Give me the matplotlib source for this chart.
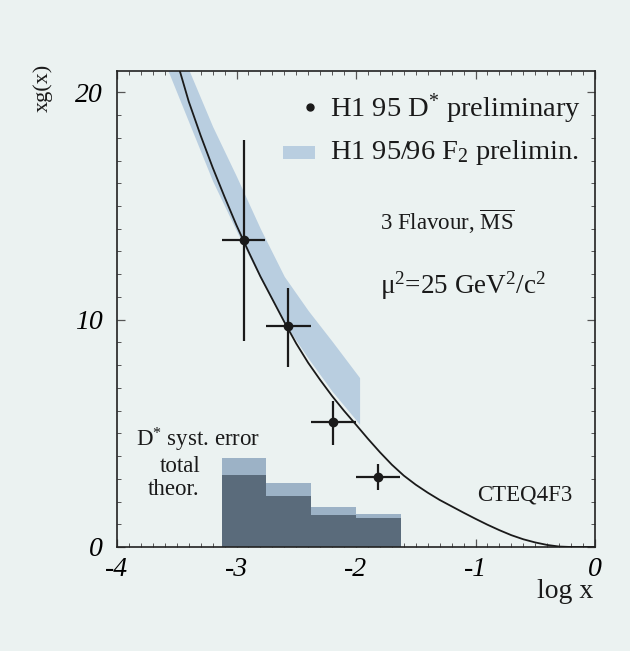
import matplotlib
matplotlib.use("Agg")
import matplotlib.pyplot as plt
import numpy as np
from matplotlib.patches import Rectangle
from matplotlib.ticker import MultipleLocator

plt.rcParams['font.family'] = ['Liberation Serif', 'DejaVu Serif']
plt.rcParams['mathtext.fontset'] = 'custom'
plt.rcParams['mathtext.rm'] = 'Liberation Serif'
plt.rcParams['mathtext.it'] = 'Liberation Serif:italic'
plt.rcParams['axes.unicode_minus'] = False

# ---- data ----
# H1 95 D* points
dstar_x = [-2.94, -2.57, -2.19, -1.82]
dstar_y = [13.5, 9.7, 5.5, 3.1]
dstar_xlo = [-3.125, -2.75, -2.375, -2.0]
dstar_xhi = [-2.76, -2.375, -2.0, -1.63]
dstar_ylo = [9.05, 7.9, 4.5, 2.5]
dstar_yhi = [17.9, 11.4, 6.4, 3.65]

# H1 95/96 F2 band
band_x = [-3.6, -3.4, -3.2, -3.0, -2.8, -2.6, -2.4, -2.2, -1.97]
band_lo = [21.3, 18.7, 16.1, 13.9, 11.8, 9.85, 8.3, 6.85, 5.4]
band_hi = [23.5, 21.0, 18.5, 16.3, 14.0, 11.9, 10.4, 9.05, 7.45]

# CTEQ4F3 curve
curve_x = [-3.6, -3.5, -3.4, -3.3, -3.2, -3.1, -3.0, -2.9, -2.8, -2.7, -2.6, -2.5,
           -2.4, -2.3, -2.2, -2.1, -2.0, -1.9, -1.8, -1.7, -1.6, -1.5, -1.4, -1.3,
           -1.2, -1.1, -1.0, -0.9, -0.8, -0.7, -0.6, -0.5, -0.4, -0.3, -0.2, 0.0]
curve_y = [23.3, 21.4, 19.6, 18.1, 16.7, 15.4, 14.15, 13.0, 11.9, 10.9, 9.9, 8.95,
           8.1, 7.35, 6.64, 5.99, 5.38, 4.76, 4.17, 3.62, 3.14, 2.74, 2.39, 2.07,
           1.79, 1.51, 1.24, 0.98, 0.74, 0.52, 0.34, 0.20, 0.09, 0.02, 0.0, 0.0]

# systematic error histogram
hist_edges = [-3.125, -2.75, -2.375, -2.0, -1.625]
hist_syst = [3.16, 2.25, 1.4, 1.27]
hist_total = [3.9, 2.8, 1.75, 1.45]

xticks = [-4, -3, -2, -1, 0]
xticklabels = ['-4', '-3', '-2', '-1', '0']
yticks = [0, 10, 20]
yticklabels = ['0', '10', '20']

# ---- colors ----
bg = '#ebf2f1'
band_col = '#b9cee0'
dark_col = '#5a6b7b'
light_col = '#9cb2c6'
ink = '#1a1a1a'

fig = plt.figure(figsize=(6.30, 6.51), dpi=100, facecolor=bg)
ax = fig.add_axes([117/630, 104/651, 478/630, 476.3/651])
ax.set_facecolor(bg)

ax.set_xlim(-4, 0)
ax.set_ylim(0, 20.95)

ax.stairs(hist_total, hist_edges, fill=True, color=light_col, zorder=1)
ax.stairs(hist_syst, hist_edges, fill=True, color=dark_col, zorder=2)

ax.fill_between(band_x, band_lo, band_hi, color=band_col, lw=0, zorder=2)
ax.plot(curve_x, curve_y, color=ink, lw=1.3, zorder=3)

xerr = [np.array(dstar_x) - np.array(dstar_xlo), np.array(dstar_xhi) - np.array(dstar_x)]
yerr = [np.array(dstar_y) - np.array(dstar_ylo), np.array(dstar_yhi) - np.array(dstar_y)]
ax.errorbar(dstar_x, dstar_y, xerr=xerr, yerr=yerr, fmt='o', color=ink, ms=6,
            elinewidth=1.6, capsize=0, zorder=4)

# ticks
ax.set_xticks(xticks)
ax.set_xticklabels(xticklabels, fontsize=20, fontstyle='italic')
ax.set_yticks(yticks)
ax.set_yticklabels(yticklabels, fontsize=20, fontstyle='italic')
ax.xaxis.set_minor_locator(MultipleLocator(0.1))
ax.yaxis.set_minor_locator(MultipleLocator(1))
ax.tick_params(which='both', direction='in', top=True, right=True, color='#555555')
ax.tick_params(which='major', length=6, width=0.9)
ax.tick_params(which='minor', length=3, width=0.7)
ax.tick_params(axis='x', which='major', pad=7)
ax.tick_params(axis='y', which='major', pad=10)
for s in ax.spines.values():
    s.set_color('#222222')
    s.set_linewidth(1.2)

# axis labels
fig.text(43/630, 1 - 88/651, 'xg(x)', rotation=90, fontsize=16, ha='center', va='center', color=ink)
ax.text(0.996, (547 - 598) / 476.3, 'log x', transform=ax.transAxes, fontsize=20,
        ha='right', va='baseline', color=ink)

# legend (manual)
ax.plot([0.404], [0.924], 'o', color=ink, ms=5, transform=ax.transAxes)
ax.text(0.446, 0.903, 'H1 95 D$^{*}$ preliminary', transform=ax.transAxes,
        fontsize=20.5, va='baseline', ha='left', color=ink)
ax.add_patch(Rectangle((0.347, 0.815), 0.067, 0.027, transform=ax.transAxes,
                       facecolor=band_col, edgecolor='none'))
ax.text(0.446, 0.815, 'H1 95/96 F$_2$ prelimin.', transform=ax.transAxes,
        fontsize=20.5, va='baseline', ha='left', color=ink)

ax.text(0.550, 0.666, r'3 Flavour, $\overline{\mathrm{MS}}$', transform=ax.transAxes,
        fontsize=16.5, va='baseline', ha='left', color=ink)
ax.text(0.550, 0.533, 'μ$^2$=25 GeV$^2$/c$^2$', transform=ax.transAxes,
        fontsize=19.5, va='baseline', ha='left', color=ink)
ax.text(0.753, 0.0966, 'CTEQ4F3', transform=ax.transAxes,
        fontsize=16.5, va='baseline', ha='left', color=ink)

ax.text(0.040, 0.21, 'D$^{*}$ syst. error', transform=ax.transAxes,
        fontsize=16.5, va='baseline', ha='left', color=ink)
ax.text(0.090, 0.157, 'total', transform=ax.transAxes,
        fontsize=16.5, va='baseline', ha='left', color=ink)
ax.text(0.065, 0.109, 'theor.', transform=ax.transAxes,
        fontsize=16.5, va='baseline', ha='left', color=ink)

fig.savefig('out.png', dpi=100, facecolor=bg)
